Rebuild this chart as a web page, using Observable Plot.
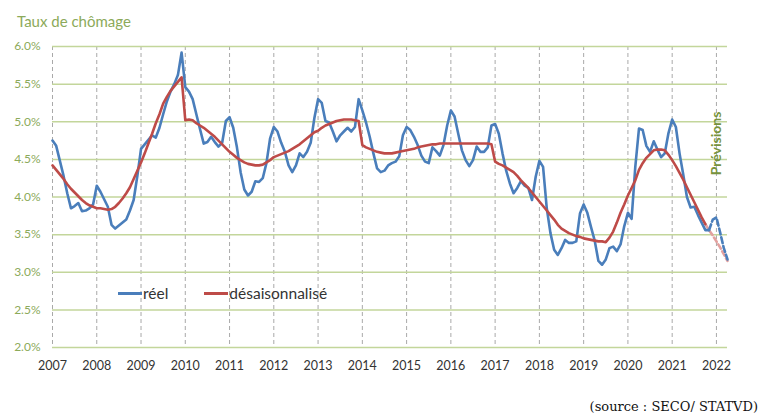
<!DOCTYPE html>
<html>
<head>
<meta charset="utf-8">
<script src="https://cdn.jsdelivr.net/npm/d3@7"></script>
<script src="https://cdn.jsdelivr.net/npm/@observablehq/plot@0.6"></script>
<style>
  html, body { margin: 0; padding: 0; background: #fff; }
  #wrap { position: relative; width: 759px; height: 415px; overflow: hidden; font-family: Lato, "Open Sans", sans-serif; }
  #chart { position: absolute; left: 0; top: 0; }
  #title { position: absolute; left: 17px; top: 12px; font-size: 15px; line-height: 18px; color: #8caa5a; white-space: nowrap; }
  #legend { position: absolute; left: 118px; top: 283px; height: 20px; display: flex; align-items: center; font-size: 15.5px; color: #333; white-space: nowrap; }
  #legend .sw { display: inline-block; width: 24px; height: 3px; margin-right: 1px; }
  #source { position: absolute; right: 1px; top: 399px; font-family: "DejaVu Serif", serif; font-size: 13px; line-height: 15px; color: #111; white-space: nowrap; }
</style>
</head>
<body>
<div id="wrap">
  <div id="chart"></div>
  <div id="title">Taux de chômage</div>
  <div id="legend"></div>
  <div id="source">(source : SECO/ STATVD)</div>
</div>
<script>
// ---- data (monthly, Jan 2007 .. Apr 2022) ----
const startYear = 2007;
const years = [2007, 2008, 2009, 2010, 2011, 2012, 2013, 2014, 2015, 2016, 2017, 2018, 2019, 2020, 2021, 2022];
const yTicks = [2.0, 2.5, 3.0, 3.5, 4.0, 4.5, 5.0, 5.5, 6.0];
const seriesNames = ["réel", "désaisonnalisé"];
const forecastLabel = "Prévisions";
const forecastYear = 2022;

const reel = [
  4.75, 4.68, 4.48, 4.28, 4.05, 3.85, 3.88, 3.92, 3.81, 3.82, 3.85, 3.90,
  4.15, 4.07, 3.97, 3.87, 3.63, 3.58, 3.62, 3.66, 3.70, 3.82, 3.96, 4.28,
  4.64, 4.70, 4.76, 4.82, 4.79, 4.92, 5.10, 5.27, 5.40, 5.50, 5.62, 5.92,
  5.46, 5.40, 5.30, 5.10, 4.90, 4.71, 4.73, 4.80, 4.73, 4.67, 4.72, 5.01,
  5.06, 4.92, 4.66, 4.33, 4.10, 4.02, 4.07, 4.21, 4.20, 4.25, 4.45, 4.78,
  4.93, 4.87, 4.72, 4.60, 4.42, 4.33, 4.42, 4.58, 4.53, 4.60, 4.72, 5.05,
  5.30, 5.25, 5.01, 4.99, 4.87, 4.74, 4.82, 4.87, 4.92, 4.87, 4.93, 5.30,
  5.15, 4.99, 4.80, 4.58, 4.38, 4.33, 4.35, 4.42, 4.45, 4.47, 4.54, 4.82,
  4.93, 4.89, 4.80, 4.69, 4.55, 4.47, 4.45, 4.66, 4.61, 4.55, 4.69, 4.95,
  5.15, 5.07, 4.84, 4.62, 4.49, 4.41, 4.49, 4.67, 4.60, 4.60, 4.66, 4.95,
  4.97, 4.84, 4.58, 4.35, 4.18, 4.05, 4.12, 4.21, 4.15, 4.12, 3.96, 4.27,
  4.48, 4.40, 3.85, 3.52, 3.30, 3.23, 3.32, 3.43, 3.39, 3.39, 3.41, 3.78,
  3.90, 3.79, 3.60, 3.42, 3.15, 3.10, 3.17, 3.32, 3.34, 3.28, 3.37, 3.61,
  3.79, 3.71, 4.40, 4.91, 4.89, 4.68, 4.60, 4.74, 4.63, 4.53, 4.58, 4.85,
  5.03, 4.93, 4.58, 4.30, 4.00, 3.86, 3.87, 3.76, 3.66, 3.56, 3.56, 3.70,
  3.73, 3.53, 3.32, 3.17
];

const desaisonnalise = [
  4.42, 4.36, 4.30, 4.24, 4.17, 4.11, 4.06, 4.01, 3.96, 3.92, 3.89, 3.87,
  3.85, 3.85, 3.84, 3.83, 3.84, 3.87, 3.92, 3.98, 4.05, 4.13, 4.24, 4.35,
  4.46, 4.58, 4.71, 4.84, 4.98, 5.10, 5.24, 5.33, 5.41, 5.47, 5.53, 5.59,
  5.02, 5.03, 5.02, 4.98, 4.95, 4.92, 4.88, 4.84, 4.80, 4.75, 4.70, 4.65,
  4.60, 4.56, 4.52, 4.49, 4.46, 4.44, 4.43, 4.42, 4.42, 4.43, 4.46, 4.49,
  4.53, 4.55, 4.57, 4.59, 4.61, 4.64, 4.67, 4.70, 4.74, 4.78, 4.82, 4.86,
  4.88, 4.92, 4.95, 4.97, 4.99, 5.01, 5.02, 5.03, 5.03, 5.03, 5.02, 5.01,
  4.69, 4.66, 4.64, 4.62, 4.60, 4.59, 4.58, 4.58, 4.58, 4.59, 4.60, 4.61,
  4.62, 4.63, 4.64, 4.66, 4.67, 4.68, 4.69, 4.70, 4.70, 4.71, 4.71, 4.71,
  4.71, 4.71, 4.71, 4.71, 4.71, 4.71, 4.71, 4.71, 4.71, 4.71, 4.71, 4.70,
  4.47, 4.44, 4.42, 4.39, 4.36, 4.33, 4.28, 4.22, 4.17, 4.12, 4.06, 4.00,
  3.94, 3.88, 3.82, 3.76, 3.70, 3.63, 3.58, 3.55, 3.52, 3.50, 3.48, 3.47,
  3.45, 3.44, 3.43, 3.42, 3.41, 3.41, 3.40, 3.46, 3.54, 3.66, 3.79, 3.90,
  4.02, 4.12, 4.22, 4.36, 4.45, 4.52, 4.57, 4.62, 4.63, 4.63, 4.62, 4.56,
  4.49, 4.41, 4.32, 4.23, 4.13, 4.03, 3.93, 3.83, 3.73, 3.64, 3.56, 3.49,
  3.41, 3.33, 3.24, 3.15
];

// index of the first forecast month (dashed from there on)
const reelForecastFrom = 178;   // Nov 2021
const desForecastFrom = 177;    // Oct 2021

// ---- styles ----
const blue = "#4a7ebb";
const red = "#be4b48";
const redLight = "#e3a19f";
const gridGreen = "#c3d69b";
const labelGreen = "#8caa5a";
const prevGreen = "#77933c";

const rows = reel.map((v, i) => ({t: startYear + i / 12, reel: v, des: desaisonnalise[i]}));
const xEnd = startYear + (reel.length - 1) / 12;

const chart = Plot.plot({
  width: 759,
  height: 390,
  marginLeft: 52,
  marginRight: 32,
  marginTop: 46,
  marginBottom: 43,
  style: {fontFamily: "Lato, 'Open Sans', sans-serif", background: "#fff"},
  x: {domain: [startYear, xEnd]},
  y: {domain: [yTicks[0], yTicks[yTicks.length - 1]]},
  marks: [
    Plot.ruleX(years, {stroke: "#a9a9a9", strokeWidth: 1, strokeDasharray: "4,3"}),
    Plot.ruleY(yTicks, {stroke: gridGreen, strokeWidth: 1.5}),
    Plot.axisX({ticks: years, tickFormat: d => String(d), tickSize: 0, tickPadding: 14, label: null, fill: "#333", fontSize: 12.5}),
    Plot.axisY({ticks: yTicks, tickFormat: d => d.toFixed(1) + "%", tickSize: 0, tickPadding: 12, label: null, fill: labelGreen, fontSize: 12}),
    Plot.line(rows.slice(desForecastFrom), {x: "t", y: "des", stroke: redLight, strokeWidth: 2.6, strokeDasharray: "5,3"}),
    Plot.line(rows.slice(reelForecastFrom), {x: "t", y: "reel", stroke: blue, strokeWidth: 2.6, strokeDasharray: "6,3"}),
    Plot.line(rows.slice(0, reelForecastFrom + 1), {x: "t", y: "reel", stroke: blue, strokeWidth: 2.6}),
    Plot.line(rows.slice(0, desForecastFrom + 1), {x: "t", y: "des", stroke: red, strokeWidth: 2.6}),
    Plot.text([forecastLabel], {x: () => forecastYear, frameAnchor: "top", dy: 97, rotate: -90, text: d => d,
      fill: prevGreen, fontWeight: "bold", fontSize: 14, textAnchor: "middle", lineAnchor: "middle"})
  ]
});
document.getElementById("chart").appendChild(chart);

// legend
const legend = document.getElementById("legend");
[[seriesNames[0], blue], [seriesNames[1], red]].forEach(([name, col], i) => {
  const sw = document.createElement("span");
  sw.className = "sw";
  sw.style.background = col;
  if (i > 0) sw.style.marginLeft = "36px";
  const lab = document.createElement("span");
  lab.textContent = name;
  legend.appendChild(sw);
  legend.appendChild(lab);
});
</script>
</body>
</html>
